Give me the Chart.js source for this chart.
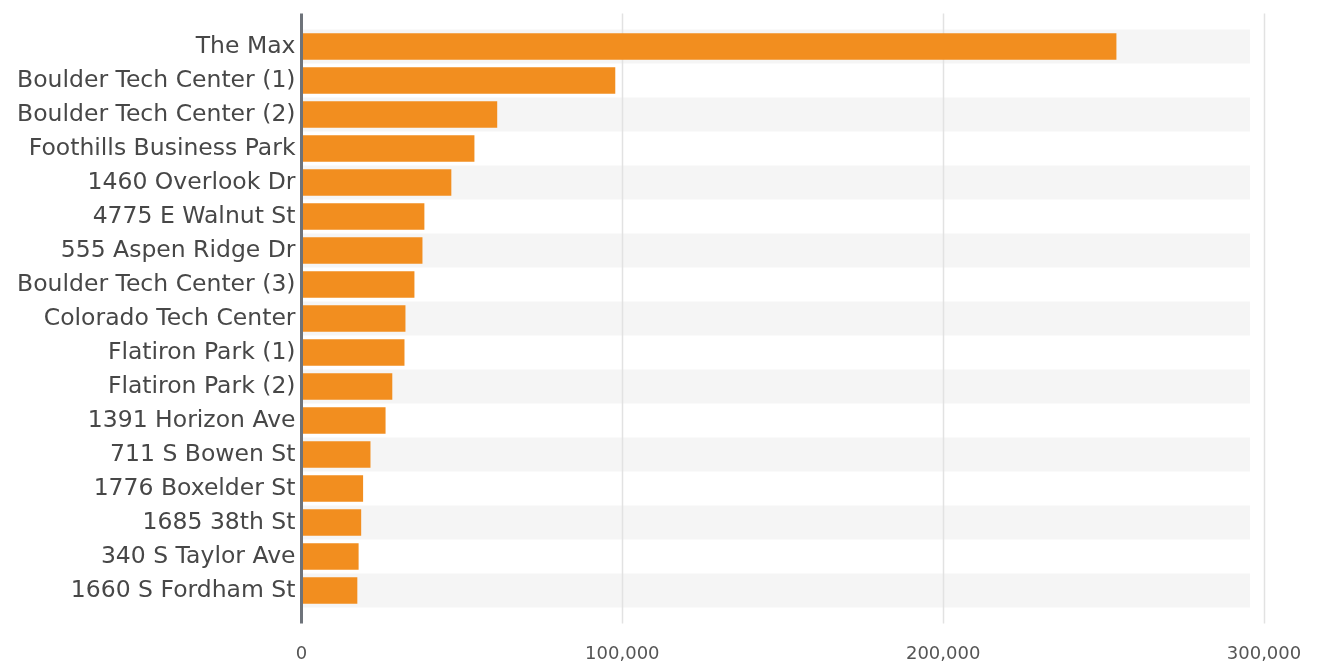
<!DOCTYPE html>
<html>
<head>
<meta charset="utf-8">
<title>Office space by property</title>
<script src="https://cdn.jsdelivr.net/npm/chart.js@4/dist/chart.umd.min.js"></script>
<style>
  html, body { margin: 0; padding: 0; background: #ffffff; }
  #wrap { width: 1317px; height: 666px; position: relative; }
</style>
</head>
<body>
<div id="wrap"><canvas id="chart"></canvas></div>
<script>
// Properties, largest first
const categories = [
  "The Max",
  "Boulder Tech Center (1)",
  "Boulder Tech Center (2)",
  "Foothills Business Park",
  "1460 Overlook Dr",
  "4775 E Walnut St",
  "555 Aspen Ridge Dr",
  "Boulder Tech Center (3)",
  "Colorado Tech Center",
  "Flatiron Park (1)",
  "Flatiron Park (2)",
  "1391 Horizon Ave",
  "711 S Bowen St",
  "1776 Boxelder St",
  "1685 38th St",
  "340 S Taylor Ave",
  "1660 S Fordham St"
];

// Square footage per property
const values = [
  254000, 97800, 61000, 53900, 46700, 38300, 37700, 35200, 32400,
  32100, 28300, 26200, 21500, 19200, 18600, 17800, 17400
];

// Value axis ticks
const xTicks = [0, 100000, 200000, 300000];

const EXTEND = 16; // gridlines and axis reach past the rows

// Alternating row bands, vertical gridlines and the zero axis line
const backdrop = {
  id: "backdrop",
  beforeDatasetsDraw(chart) {
    const { ctx, chartArea, scales: { x, y } } = chart;
    const step = y.getPixelForValue(1) - y.getPixelForValue(0);
    ctx.save();
    ctx.fillStyle = "#f5f5f5";
    for (let i = 0; i < categories.length; i += 2) {
      const c = y.getPixelForValue(i);
      ctx.fillRect(chartArea.left, c - step / 2, chartArea.right - 14 - chartArea.left, step);
    }
    ctx.strokeStyle = "#e2e2e2";
    ctx.lineWidth = 1.5;
    xTicks.forEach(v => {
      if (v === 0) return;
      const px = Math.round(x.getPixelForValue(v)) + 0.5;
      ctx.beginPath();
      ctx.moveTo(px, chartArea.top - EXTEND);
      ctx.lineTo(px, chartArea.bottom + EXTEND);
      ctx.stroke();
    });
    ctx.restore();
  },
  afterDatasetsDraw(chart) {
    const { ctx, chartArea, scales: { x } } = chart;
    const px = x.getPixelForValue(0);
    ctx.save();
    ctx.strokeStyle = "#6e737a";
    ctx.lineWidth = 3;
    ctx.beginPath();
    ctx.moveTo(px, chartArea.top - EXTEND);
    ctx.lineTo(px, chartArea.bottom + EXTEND);
    ctx.stroke();
    ctx.restore();
  }
};

new Chart(document.getElementById("chart"), {
  type: "bar",
  data: {
    labels: categories,
    datasets: [{
      data: values,
      backgroundColor: "#f28e1f",
      borderWidth: 0,
      categoryPercentage: 1.0,
      barPercentage: 0.78
    }]
  },
  options: {
    indexAxis: "y",
    responsive: true,
    maintainAspectRatio: false,
    animation: false,
    layout: { padding: { top: 29.5, right: 53, bottom: 0, left: 0 } },
    plugins: {
      legend: { display: false },
      tooltip: { enabled: false },
      title: { display: false }
    },
    scales: {
      x: {
        type: "linear",
        min: 0,
        max: 300000,
        afterBuildTicks(scale) {
          scale.ticks = xTicks.map(v => ({ value: v }));
        },
        grid: { display: false, drawTicks: false },
        border: { display: false },
        ticks: {
          padding: 36,
          color: "#555555",
          font: { family: "'DejaVu Sans', sans-serif", size: 18 },
          callback: v => Number(v).toLocaleString("en-US"),
          maxRotation: 0
        },
        afterFit(scale) {
          scale.height = 58.5;
          scale.paddingLeft = 0;
          scale.paddingRight = 0;
        }
      },
      y: {
        type: "category",
        grid: { display: false, drawTicks: false },
        border: { display: false },
        ticks: {
          padding: 6,
          color: "#474747",
          font: { family: "'DejaVu Sans', sans-serif", size: 23.5 },
          autoSkip: false
        },
        afterFit(scale) {
          scale.width = 301.5;
          scale.paddingTop = 0;
          scale.paddingBottom = 0;
        }
      }
    }
  },
  plugins: [backdrop]
});
</script>
</body>
</html>
